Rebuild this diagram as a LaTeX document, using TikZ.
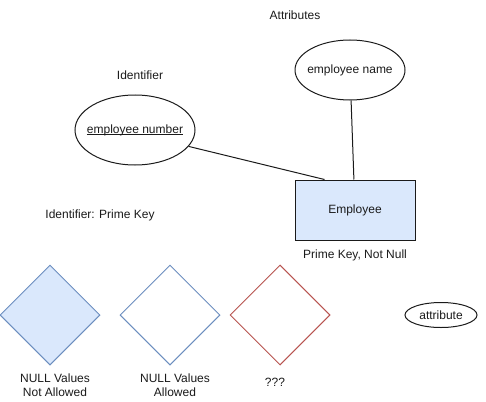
\documentclass[tikz,border=0pt]{standalone}
\usepackage{fontspec}
\setmainfont{Liberation Sans}
\usetikzlibrary{positioning,shapes.geometric}
\definecolor{erfill}{HTML}{DAE8FC}
\definecolor{erblue}{HTML}{6C8EBF}
\definecolor{erred}{HTML}{B85450}
\definecolor{erdark}{HTML}{1A1A1A}
\newcommand{\keyline}[1]{\setbox0\hbox{#1}\rlap{\rule[-1.6pt]{\wd0}{0.7pt}}\box0}
\tikzset{
  erText/.style={font=\fontsize{12}{14}\selectfont, text=erdark, align=center, inner sep=0pt},
  attrBox/.style={ellipse, draw=erdark, line width=1pt, inner sep=0pt, label={[erText]center:#1}},
  entityBox/.style={rectangle, draw=erdark, fill=erfill, line width=1pt, erText, minimum width=120pt, minimum height=60pt},
  relBox/.style={diamond, line width=1pt, minimum width=100pt, minimum height=100pt, inner sep=0pt},
  erLine/.style={draw=erdark, line width=1pt}
}
\begin{document}
\begin{tikzpicture}[x=1pt,y=-1pt]
  \useasboundingbox (0,0) rectangle (486,401);
  % attributes and entity
  \node[erText] (attrtitle) at (295,15) {Attributes};
  \node[attrBox={employee name}, minimum width=110pt, minimum height=60pt] (empname) at (350,70) {};
  \node[erText] (idtitle) at (140,75) {Identifier};
  \node[attrBox={\keyline{employee number}}, minimum width=120pt, minimum height=70pt] (empnum) at (135,130) {};
  \node[entityBox] (emp) at (355,210) {Employee};
  \node[erText] (empnote) at (355,255) {Prime Key, Not Null};
  \node[erText] (idnote) at (100,215) {Identifier: Prime Key};
  \draw[erLine] (empname) -- (emp);
  \draw[erLine] (empnum.-17) -- ([xshift=30pt]emp.north west);
  % legend
  \node[relBox, draw=erblue, fill=erfill] (notnull) at (50,315) {};
  \node[relBox, draw=erblue, fill=white] (nullok) at (170,315) {};
  \node[relBox, draw=erred, fill=white] (unknown) at (280,315) {};
  \node[erText] (notnulltxt) at (55,385) {NULL Values\\Not Allowed};
  \node[erText] (nulloktxt) at (175,385) {NULL Values\\Allowed};
  \node[erText] (unknowntxt) at (275,382) {???};
  \node[attrBox={attribute}, minimum width=72pt, minimum height=25pt] (attr) at (441,315) {};
\end{tikzpicture}
\end{document}
